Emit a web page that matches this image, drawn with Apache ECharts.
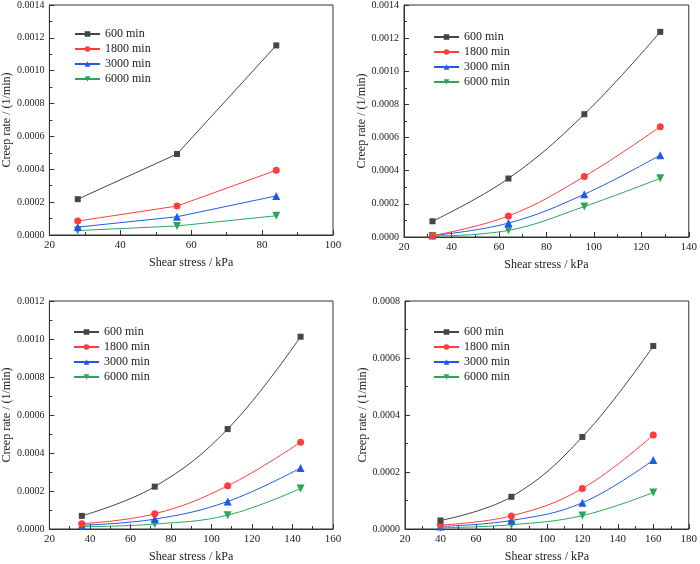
<!DOCTYPE html>
<html>
<head>
<meta charset="utf-8">
<script src="https://cdn.jsdelivr.net/npm/echarts@6/dist/echarts.min.js"></script>
<style>
  html, body { margin: 0; padding: 0; background: #fff; }
  #main { width: 700px; height: 564px; }
</style>
</head>
<body>
<div id="main"></div>
<script>
// legend names, same four in every panel
const times = ['600 min', '1800 min', '3000 min', '6000 min'];

// panel 1 (top left)
const stress1 = [28, 56, 84];
const rate1 = [
  [0.000218, 0.000493, 0.001154],
  [0.000085, 0.000176, 0.000394],
  [0.000048, 0.000111, 0.000238],
  [0.000027, 0.000055, 0.000117]
];
// panel 2 (top right)
const stress2 = [32, 64, 96, 128];
const rate2 = [
  [0.000095, 0.000353, 0.000741, 0.001238],
  [0.000008, 0.000127, 0.000365, 0.000666],
  [0.000009, 0.000084, 0.000258, 0.000494],
  [0.000006, 0.000040, 0.000184, 0.000354]
];
// panel 3 (bottom left)
const stress3 = [36, 72, 108, 144];
const rate3 = [
  [0.000069, 0.000223, 0.000526, 0.001012],
  [0.000028, 0.000080, 0.000227, 0.000457],
  [0.000020, 0.000052, 0.000145, 0.000321],
  [0.000012, 0.000026, 0.000073, 0.000213]
];
// panel 4 (bottom right)
const stress4 = [40, 80, 120, 160];
const rate4 = [
  [0.000030, 0.000113, 0.000323, 0.000642],
  [0.000014, 0.000046, 0.000142, 0.000330],
  [0.000009, 0.000030, 0.000092, 0.000242],
  [0.000004, 0.000015, 0.000047, 0.000128]
];

const colors = ['#454545', '#ff3d3d', '#2159e6', '#2ba55c'];
const symbols = ['rect', 'circle', 'triangle', 'path://M0,0L2,0L1,1.75Z'];
const symbolSizes = [6, 7, 8, 8];

const font = '"Liberation Serif", serif';

var myChart = echarts.init(document.getElementById('main'));

const grids = [
  {left: 47, top: 4, width: 286, height: 231},
  {left: 404, top: 5, width: 289, height: 232},
  {left: 46, top: 301, width: 287, height: 231},
  {left: 405, top: 301, width: 288, height: 231}
];
const xRanges = [[20, 100], [20, 140], [20, 160], [20, 180]];
const yRanges = [[0, 0.0014, 0.0002], [0, 0.0014, 0.0002], [0, 0.0012, 0.0002], [0, 0.0008, 0.0002]];
const legendPos = [{left: 69, top: 22}, {left: 428, top: 25}, {left: 68, top: 320}, {left: 428, top: 320}];

const panels = [
  {x: stress1, y: rate1, smooth: false},
  {x: stress2, y: rate2, smooth: true},
  {x: stress3, y: rate3, smooth: true},
  {x: stress4, y: rate4, smooth: true}
];

let xAxes = [], yAxes = [], series = [], legends = [];
grids.forEach(function (g, i) {
  g.show = true;
  g.borderColor = '#333';
  g.borderWidth = 1;
  g.backgroundColor = 'transparent';
  xAxes.push({
    type: 'value', gridIndex: i,
    min: xRanges[i][0], max: xRanges[i][1], interval: 20,
    name: 'Shear stress / kPa', nameLocation: 'middle', nameGap: 22,
    nameTextStyle: {fontFamily: font, fontSize: 12, color: '#222'},
    axisLine: {lineStyle: {color: '#333', width: 1}},
    axisTick: {inside: true, length: 5, lineStyle: {color: '#333'}},
    minorTick: {show: true, splitNumber: 2, length: 3, lineStyle: {color: '#333'}},
    axisLabel: {fontFamily: font, fontSize: 11, color: '#222', margin: 5},
    splitLine: {show: false}
  });
  yAxes.push({
    type: 'value', gridIndex: i,
    min: yRanges[i][0], max: yRanges[i][1], interval: yRanges[i][2],
    name: 'Creep rate / (1/min)', nameLocation: 'middle', nameGap: 31,
    nameTextStyle: {fontFamily: font, fontSize: 12, color: '#222'},
    axisLine: {show: true, lineStyle: {color: '#333', width: 1}},
    axisTick: {show: true, inside: true, length: 5, lineStyle: {color: '#333'}},
    minorTick: {show: true, splitNumber: 2, length: 3, lineStyle: {color: '#333'}},
    axisLabel: {fontFamily: font, fontSize: 10, color: '#222', margin: 5,
      formatter: function (v) { return v.toFixed(4); }},
    splitLine: {show: false}
  });
  let p = panels[i];
  let names = [];
  times.forEach(function (t, k) {
    let id = 'p' + i + '_' + k;
    names.push({name: id});
    series.push({
      id: id, name: id, type: 'line',
      xAxisIndex: i, yAxisIndex: i,
      data: p.x.map(function (xv, j) { return [xv, p.y[k][j]]; }),
      smooth: p.smooth ? 0.4 : false,
      symbol: symbols[k], symbolSize: symbolSizes[k],
      lineStyle: {color: colors[k], width: 1},
      itemStyle: {color: colors[k]},
      z: 10 - k
    });
  });
  legends.push({
    orient: 'vertical', left: legendPos[i].left, top: legendPos[i].top,
    itemWidth: 25, itemHeight: 7, itemGap: 1,
    data: names,
    formatter: function (n) { return times[+n.split('_')[1]]; },
    textStyle: {fontFamily: font, fontSize: 12, color: '#222', lineHeight: 14},
    selectedMode: false
  });
});

var option = {
  animation: false,
  textStyle: {fontFamily: font},
  grid: grids,
  xAxis: xAxes,
  yAxis: yAxes,
  legend: legends,
  series: series
};
myChart.setOption(option);
</script>
</body>
</html>
